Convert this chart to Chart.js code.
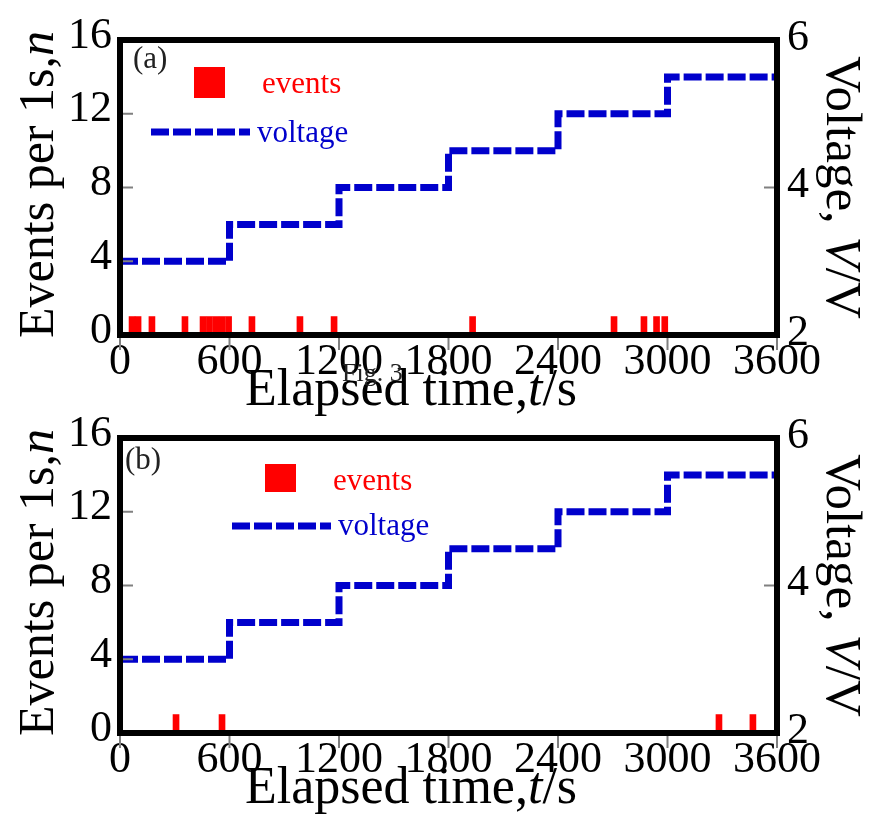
<!DOCTYPE html>
<html><head><meta charset="utf-8">
<script src="https://cdn.jsdelivr.net/npm/chart.js@4.4.1/dist/chart.umd.min.js"></script>
<style>
html,body{margin:0;padding:0;background:#fff;}
body{width:876px;height:840px;position:relative;overflow:hidden;}
canvas{position:absolute;left:0;}
#ca{top:0;}
#cb{top:398px;}
</style></head><body>
<canvas id="ca" width="876" height="420"></canvas>
<canvas id="cb" width="876" height="420"></canvas>
<script>
// ---- data ----
const voltageTimes  = [0, 600, 1200, 1800, 2400, 3000, 3600];
const voltageLevels = [3.0, 3.5, 4.0, 4.5, 5.0, 5.5, 5.5];
const eventsA_times  = [66, 99, 175, 356, 455, 490, 525, 560, 595, 723, 986, 1173, 1932, 2707, 2871, 2940, 2985];
const eventsA_counts = [1, 1, 1, 1, 1, 1, 1, 1, 1, 1, 1, 1, 1, 1, 1, 1, 1];
const eventsB_times  = [307, 559, 3282, 3468];
const eventsB_counts = [1, 1, 1, 1];
const xTickValues = [0, 600, 1200, 1800, 2400, 3000, 3600];
const yTickValues = [0, 4, 8, 12, 16];
const vTickValues = [2, 4, 6];

const FONT = "'Liberation Serif','Times New Roman',serif";
const RED = '#FF0000';
const BLUE = '#0000CC';
Chart.defaults.font.family = FONT;
Chart.defaults.color = '#000';

function drawParts(ctx, parts, size) {
  let total = 0;
  const w = parts.map(([t, it]) => {
    ctx.font = (it ? 'italic ' : '') + size + 'px ' + FONT;
    const m = ctx.measureText(t).width; total += m; return m;
  });
  let x = -total / 2;
  parts.forEach(([t, it], i) => {
    ctx.font = (it ? 'italic ' : '') + size + 'px ' + FONT;
    ctx.fillText(t, x, 0); x += w[i];
  });
}

function makeChart(id, evT, evN, cfg) {
  const decor = {
    id: 'decor',
    afterDraw(chart) {
      const ctx = chart.ctx, a = chart.chartArea;
      const sx = chart.scales.x, sy = chart.scales.y, sv = chart.scales.y2;
      ctx.save();
      // ticks
      ctx.strokeStyle = '#808080'; ctx.lineWidth = 2;
      ctx.beginPath();
      xTickValues.forEach(v => { const px = sx.getPixelForValue(v); ctx.moveTo(px, a.bottom); ctx.lineTo(px, a.bottom + 15); });
      yTickValues.forEach(v => { const py = sy.getPixelForValue(v); ctx.moveTo(a.left, py); ctx.lineTo(a.left + 13, py); });
      vTickValues.forEach(v => { const py = sv.getPixelForValue(v); ctx.moveTo(a.right, py); ctx.lineTo(a.right - 13, py); });
      ctx.stroke();
      // frame
      ctx.strokeStyle = '#000'; ctx.lineWidth = 6;
      ctx.strokeRect(a.left, a.top, a.right - a.left, a.bottom - a.top);
      // panel label
      ctx.fillStyle = '#222'; ctx.textBaseline = 'alphabetic'; ctx.textAlign = 'left';
      ctx.font = '31px ' + FONT;
      ctx.fillText(cfg.label, cfg.labelX, cfg.labelY);
      // legend
      const L = cfg.legend;
      ctx.fillStyle = RED;
      ctx.fillRect(L.sqX, L.sqY, 31, L.sqH);
      ctx.font = '31px ' + FONT;
      ctx.fillText('events', L.evX, L.evY);
      ctx.strokeStyle = BLUE; ctx.lineWidth = 7; ctx.setLineDash([18, 4]);
      ctx.beginPath(); ctx.moveTo(L.lnX0, L.lnY); ctx.lineTo(L.lnX1, L.lnY); ctx.stroke();
      ctx.setLineDash([]);
      ctx.fillStyle = BLUE;
      ctx.fillText('voltage', L.vtX, L.vtY);
      // axis titles
      ctx.fillStyle = '#000'; ctx.textBaseline = 'middle';
      ctx.save(); ctx.translate(40, (a.top + a.bottom) / 2 - 3); ctx.rotate(-Math.PI / 2);
      drawParts(ctx, [['Events per 1s,', false], ['n', true]], 50); ctx.restore();
      ctx.save(); ctx.translate(840, (a.top + a.bottom) / 2); ctx.rotate(Math.PI / 2);
      drawParts(ctx, [['Voltage, ', false], ['V', true], ['/V', false]], 51); ctx.restore();
      ctx.save(); ctx.translate(411, a.bottom + 56);
      drawParts(ctx, [['Elapsed time,', false], ['t', true], ['/s', false]], 52); ctx.restore();
      if (cfg.fig) {
        ctx.textBaseline = 'alphabetic'; ctx.fillStyle = '#222';
        ctx.font = '26px ' + FONT;
        ctx.fillText('Fig. 3', 342, a.bottom + 46);
      }
      ctx.restore();
    }
  };
  const plain = v => String(v);
  return new Chart(document.getElementById(id), {
    type: 'bar',
    data: {
      datasets: [
        {
          type: 'line', label: 'voltage', yAxisID: 'y2', xAxisID: 'x',
          data: voltageTimes.map((t, i) => ({ x: t, y: voltageLevels[i] })),
          borderColor: BLUE, borderWidth: 7, borderDash: [18, 4], borderCapStyle: 'butt',
          stepped: true, pointRadius: 0, fill: false, tension: 0, order: 2
        },
        {
          type: 'bar', label: 'events', yAxisID: 'y', xAxisID: 'x',
          data: evT.map((t, i) => ({ x: t, y: evN[i] })),
          backgroundColor: RED, borderWidth: 0, barThickness: 6, order: 1
        }
      ]
    },
    options: {
      responsive: false, animation: false, devicePixelRatio: 1,
      layout: { padding: { top: 40, left: 0, right: 0, bottom: 0 } },
      plugins: { legend: { display: false }, tooltip: { enabled: false } },
      scales: {
        x: {
          type: 'linear', position: 'bottom', min: 0, max: 3600, offset: false,
          grid: { display: false, drawTicks: false, tickLength: 0 }, border: { display: false },
          afterBuildTicks: s => { s.ticks = xTickValues.map(v => ({ value: v })); },
          afterFit: s => { s.height = 85; },
          ticks: { autoSkip: false, maxRotation: 0, padding: 1, font: { size: 44 }, color: '#000', callback: plain }
        },
        y: {
          type: 'linear', position: 'left', min: 0, max: 16,
          grid: { display: false, drawTicks: false, tickLength: 0 }, border: { display: false },
          afterBuildTicks: s => { s.ticks = yTickValues.map(v => ({ value: v })); },
          afterFit: s => { s.width = 120; },
          ticks: { padding: 8, labelOffset: -4, font: { size: 44 }, color: '#000', callback: plain }
        },
        y2: {
          type: 'linear', position: 'right', min: 2, max: 6,
          grid: { display: false, drawTicks: false, tickLength: 0 }, border: { display: false },
          afterBuildTicks: s => { s.ticks = vTickValues.map(v => ({ value: v })); },
          afterFit: s => { s.width = 99; },
          ticks: { padding: 10, labelOffset: -2, font: { size: 44 }, color: '#000', callback: plain }
        }
      }
    },
    plugins: [decor]
  });
}

makeChart('ca', eventsA_times, eventsA_counts, {
  label: '(a)', labelX: 133, labelY: 68, fig: true,
  legend: { sqX: 194, sqY: 67, sqH: 31, evX: 262, evY: 93, lnX0: 151, lnX1: 250, lnY: 132, vtX: 257, vtY: 142 }
});
makeChart('cb', eventsB_times, eventsB_counts, {
  label: '(b)', labelX: 125, labelY: 71, fig: false,
  legend: { sqX: 265, sqY: 66, sqH: 28, evX: 333, evY: 92, lnX0: 232, lnX1: 331, lnY: 128, vtX: 338, vtY: 137 }
});
</script>
</body></html>
